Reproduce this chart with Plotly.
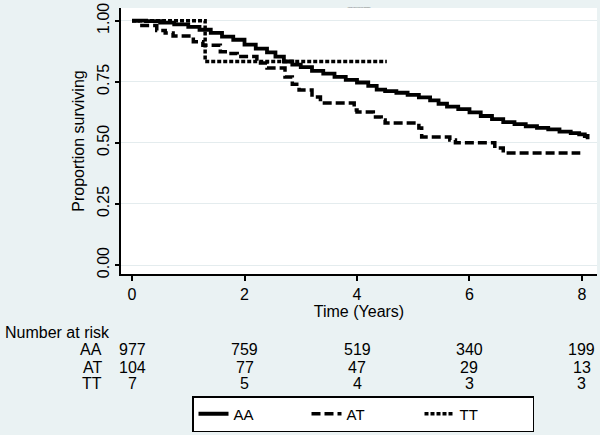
import plotly.graph_objects as go

# ---- data ----
aa_t = [0, 0.25, 0.5, 0.75, 1.0, 1.2, 1.4, 1.6, 1.8, 2.0, 2.2, 2.4, 2.55, 2.7, 2.85,
        3.0, 3.2, 3.4, 3.6, 3.8, 4.0, 4.2, 4.35, 4.5, 4.7, 4.9, 5.1, 5.3, 5.45, 5.6,
        5.8, 6.0, 6.2, 6.4, 6.6, 6.8, 7.0, 7.2, 7.4, 7.6, 7.8, 7.95, 8.05, 8.1]
aa_s = [1.0, 0.998, 0.992, 0.985, 0.975, 0.963, 0.950, 0.935, 0.922, 0.902, 0.886,
        0.870, 0.853, 0.833, 0.820, 0.810, 0.795, 0.783, 0.770, 0.758, 0.747, 0.733,
        0.718, 0.712, 0.705, 0.696, 0.686, 0.674, 0.660, 0.648, 0.638, 0.625, 0.610,
        0.597, 0.585, 0.577, 0.568, 0.561, 0.555, 0.546, 0.540, 0.535, 0.528, 0.515]

at_t = [0, 0.14, 0.44, 0.59, 0.73, 1.09, 1.26, 1.57, 1.69, 1.87, 2.22, 2.4, 2.72,
        2.85, 2.97, 3.2, 3.35, 3.95, 4.0, 4.29, 4.43, 4.5, 5.1, 5.15, 5.65, 5.75,
        6.45, 6.6, 7.97]
at_s = [1.0, 0.98, 0.96, 0.95, 0.937, 0.914, 0.90, 0.873, 0.866, 0.853, 0.827,
        0.806, 0.77, 0.74, 0.716, 0.688, 0.663, 0.634, 0.626, 0.606, 0.594, 0.581,
        0.561, 0.524, 0.512, 0.50, 0.479, 0.458, 0.458]

tt_t = [0, 1.3, 4.53]
tt_s = [1.0, 0.833, 0.833]

risk_times = [0, 2, 4, 6, 8]
risk_groups = ["AA", "AT", "TT"]
risk_aa = [977, 759, 519, 340, 199]
risk_at = [104, 77, 47, 29, 13]
risk_tt = [7, 5, 4, 3, 3]

x_ticks = [0, 2, 4, 6, 8]
y_ticks = [0, 0.25, 0.5, 0.75, 1.0]
y_ticklabels = ["0.00", "0.25", "0.50", "0.75", "1.00"]

FONT = "Liberation Sans, Arial, sans-serif"
BG = "#EAF2F3"

fig = go.Figure()
fig.add_trace(go.Scatter(x=aa_t, y=aa_s, mode="lines", name="AA", line_shape="hv",
                         line=dict(color="black", width=3.8)))
fig.add_trace(go.Scatter(x=at_t, y=at_s, mode="lines", name="AT", line_shape="hv",
                         line=dict(color="black", width=3.5, dash="9px,4px")))
fig.add_trace(go.Scatter(x=tt_t, y=tt_s, mode="lines", name="TT", line_shape="hv",
                         line=dict(color="black", width=3.5, dash="4px,2px")))

annotations = []
# Number at risk table
annotations.append(dict(text="Number at risk", xref="paper", yref="paper",
                        x=(3 - 121) / 476, y=(274 - 332) / 266, xanchor="left",
                        yanchor="middle", showarrow=False, font=dict(size=16)))
rows = [risk_aa, risk_at, risk_tt]
row_px = [350, 367, 383]
for g, vals, ypx in zip(risk_groups, rows, row_px):
    yp = (274 - ypx) / 266
    annotations.append(dict(text=g, xref="paper", yref="paper", x=(104 - 121) / 476,
                            y=yp, xanchor="right", yanchor="middle", showarrow=False,
                            font=dict(size=16)))
    for t, v in zip(risk_times, vals):
        annotations.append(dict(text=str(v), xref="x", yref="paper", x=t, y=yp,
                                xanchor="center", yanchor="middle", showarrow=False,
                                font=dict(size=16)))

fig.update_layout(
    width=600, height=435,
    margin=dict(l=121, r=3, t=8, b=161),
    paper_bgcolor=BG, plot_bgcolor="white",
    font=dict(family=FONT, size=16, color="black"),
    title=dict(text="Kaplan-Meier survival estimates", x=(359) / 600, xanchor="center",
               y=1 - 7 / 435, yanchor="middle", font=dict(size=1.6, color="#555")),
    showlegend=True,
    legend=dict(orientation="h", xref="container", yref="container",
                x=192 / 600, xanchor="left", y=1 - 432 / 435, yanchor="bottom",
                bgcolor="white", bordercolor="black", borderwidth=1.5,
                font=dict(size=15), entrywidth=68, entrywidthmode="pixels"),
    annotations=annotations,
)
fig.update_xaxes(range=[-0.196, 8.267], tickvals=x_ticks, ticks="outside", ticklen=5,
                 tickwidth=1.5, tickcolor="black", showline=True, linecolor="black",
                 linewidth=2, showgrid=False, zeroline=False, automargin=False,
                 title=dict(text="Time (Years)", standoff=0, font=dict(size=16)),
                 tickfont=dict(size=16))
fig.update_yaxes(range=[-0.0368, 1.052], tickvals=y_ticks, ticktext=y_ticklabels,
                 tickangle=-90, ticks="outside", ticklen=4, tickwidth=1.5,
                 tickcolor="black", showline=True, linecolor="black", linewidth=2,
                 showgrid=True, gridcolor="#E4ECEE", gridwidth=1, zeroline=False,
                 automargin=False,
                 title=dict(text="Proportion surviving", standoff=6, font=dict(size=16)),
                 tickfont=dict(size=16))

fig.write_html(
    "out.html",
    config={"displayModeBar": False},
    post_script="document.body.style.margin='0';document.body.style.padding='0';"
                "document.body.style.overflow='hidden';",
)
